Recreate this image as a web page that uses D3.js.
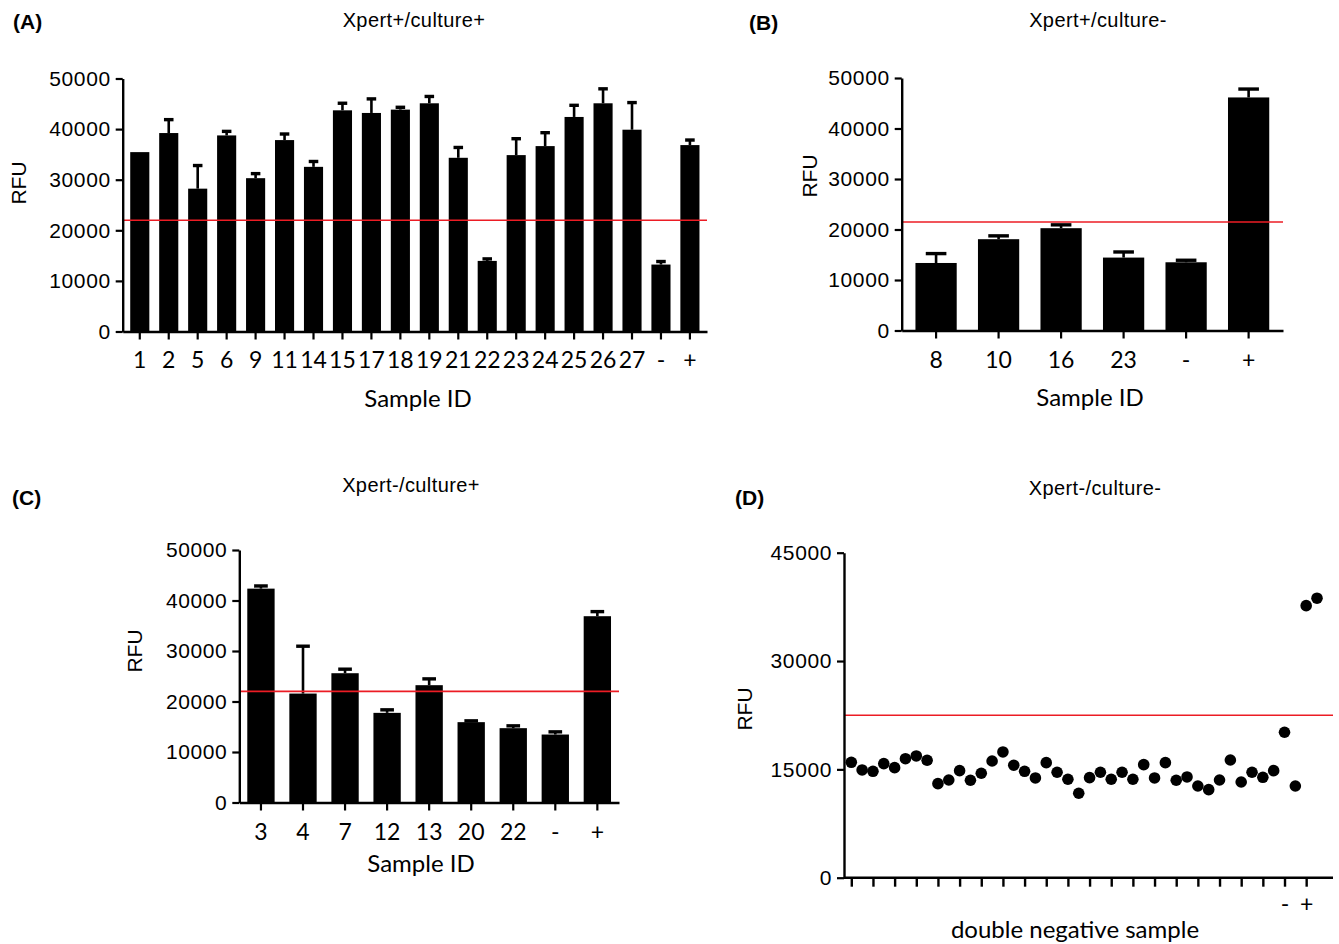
<!DOCTYPE html>
<html>
<head>
<meta charset="utf-8">
<script src="https://cdn.jsdelivr.net/npm/d3@7"></script>
<style>
  body { margin: 0; background: #fff; }
  svg text { fill: #000; }
</style>
</head>
<body>
<svg id="fig" width="1339" height="944"></svg>
<script>
// (A) Xpert+/culture+
const idsA = ["1", "2", "5", "6", "9", "11", "14", "15", "17", "18", "19", "21", "22", "23", "24", "25", "26", "27", "-", "+"];
const rfuA = [35450, 39220, 28230, 38750, 30300, 37830, 32540, 43710, 43190, 43850, 45100, 34330, 13950, 34860, 36640, 42400, 45100, 39880, 13230, 36840];
const errA = [0, 2650, 4570, 800, 900, 1200, 1060, 1400, 2780, 460, 1350, 2040, 400, 3240, 2650, 2300, 2860, 5360, 600, 1000];

// (B) Xpert+/culture-
const idsB = ["8", "10", "16", "23", "-", "+"];
const rfuB = [13370, 18080, 20260, 14440, 13510, 46150];
const errB = [1860, 660, 660, 1110, 400, 1660];

// (C) Xpert-/culture+
const idsC = ["3", "4", "7", "12", "13", "20", "22", "-", "+"];
const rfuC = [42350, 21570, 25600, 17750, 23230, 15910, 14720, 13460, 36890];
const errC = [530, 9380, 800, 600, 1250, 260, 460, 530, 910];

// (D) Xpert-/culture-  (40 double negative samples, then 2 negative and 2 positive controls)
const rfuD = [15980, 14920, 14730, 15790, 15240, 16480, 16860, 16260, 13020, 13530,
              14820, 13490, 14460, 16160, 17410, 15570, 14730, 13810, 15930, 14600,
              13630, 11690, 13850, 14600, 13630, 14600, 13630, 15650, 13810, 15930,
              13490, 13950, 12700, 12190, 13530, 16300, 13250, 14600, 13900, 14820];
const negD = [20140, 12700];
const posD = [37670, 38700];

// cut-off lines
const cutA = 22000, cutB = 21500, cutC = 22000, cutD = 22500;

const yTicks50 = [0, 10000, 20000, 30000, 40000, 50000];
const yTicks45 = [0, 15000, 30000, 45000];

const svg = d3.select("#fig");
const numFont = "'Liberation Sans', Arial, sans-serif";
const labFont = "Lato, 'Liberation Sans', sans-serif";
const red = "#ec1c24";

function styleAxis(ax) {
  ax.select(".domain").attr("stroke", "#000").attr("stroke-width", 2.4);
  ax.selectAll(".tick line").attr("stroke", "#000").attr("stroke-width", 2.2);
}

function yAxis(g, y, x0, ticks) {
  const ax = g.append("g")
    .attr("transform", `translate(${x0},0)`)
    .call(d3.axisLeft(y).tickValues(ticks).tickFormat(d3.format("d")).tickSize(7).tickSizeOuter(0).tickPadding(5));
  styleAxis(ax);
  ax.selectAll(".tick text")
    .attr("font-family", numFont).attr("font-size", 21).attr("letter-spacing", 0.6);
}

function header(p) {
  svg.append("text").attr("x", p.lx).attr("y", p.ly)
    .attr("font-family", numFont).attr("font-weight", "bold").attr("font-size", 21)
    .text(p.letter);
  svg.append("text").attr("x", p.tx).attr("y", p.ty).attr("text-anchor", "middle")
    .attr("font-family", numFont).attr("font-size", 20).attr("letter-spacing", 0.4)
    .text(p.title);
  svg.append("text")
    .attr("transform", `translate(${p.rx},${p.ry}) rotate(-90)`)
    .attr("text-anchor", "middle").attr("font-family", numFont).attr("font-size", 21)
    .text("RFU");
  svg.append("text").attr("x", p.sx).attr("y", p.sy).attr("text-anchor", "middle")
    .attr("font-family", labFont).attr("font-size", 24)
    .text(p.xlabel);
}

function barPanel(p) {
  const g = svg.append("g");
  const rows = p.ids.map((id, i) => ({ id: id, v: p.vals[i], e: p.errs[i] }));
  const x = d3.scaleBand().domain(p.ids).range([p.x0, p.x1]).paddingInner(p.pi).paddingOuter(p.po);
  const y = d3.scaleLinear().domain([0, 50000]).range([p.y0, p.y1]);
  const bw = x.bandwidth();

  // error bars (upper only)
  const eb = g.selectAll(".err").data(rows.filter(d => d.e > 0)).join("g").attr("class", "err");
  eb.append("line")
    .attr("x1", d => x(d.id) + bw / 2).attr("x2", d => x(d.id) + bw / 2)
    .attr("y1", d => y(d.v)).attr("y2", d => y(d.v + d.e))
    .attr("stroke", "#000").attr("stroke-width", 2.6);
  eb.append("line")
    .attr("x1", d => x(d.id) + bw / 2 - bw * 0.25).attr("x2", d => x(d.id) + bw / 2 + bw * 0.25)
    .attr("y1", d => y(d.v + d.e)).attr("y2", d => y(d.v + d.e))
    .attr("stroke", "#000").attr("stroke-width", 3.4);

  g.selectAll(".bar").data(rows).join("rect").attr("class", "bar")
    .attr("x", d => x(d.id)).attr("width", bw)
    .attr("y", d => y(d.v)).attr("height", d => y(0) - y(d.v))
    .attr("fill", "#000");

  // cut-off
  g.append("line").attr("x1", p.x0).attr("x2", p.x1)
    .attr("y1", y(p.cut)).attr("y2", y(p.cut))
    .attr("stroke", red).attr("stroke-width", 1.6);

  yAxis(g, y, p.x0, yTicks50);

  const ax = g.append("g").attr("transform", `translate(0,${p.y0})`)
    .call(d3.axisBottom(x).tickSize(8).tickSizeOuter(0));
  styleAxis(ax);
  ax.selectAll(".tick text")
    .attr("font-family", labFont).attr("font-size", 23)
    .attr("y", p.ty).attr("dy", 0);

  header(p.head);
}

barPanel({
  ids: idsA, vals: rfuA, errs: errA, cut: cutA,
  x0: 122.7, x1: 707, y0: 331.5, y1: 78.5, pi: 0.34, po: 0.26, ty: 36,
  head: { letter: "(A)", lx: 13, ly: 29, title: "Xpert+/culture+", tx: 414, ty: 27,
          rx: 26, ry: 183, xlabel: "Sample ID", sx: 418, sy: 407 }
});

barPanel({
  ids: idsB, vals: rfuB, errs: errB, cut: cutB,
  x0: 901.7, x1: 1283, y0: 330.5, y1: 78, pi: 0.34, po: 0.22, ty: 37,
  head: { letter: "(B)", lx: 749, ly: 30, title: "Xpert+/culture-", tx: 1098, ty: 27,
          rx: 817, ry: 176, xlabel: "Sample ID", sx: 1090, sy: 406 }
});

barPanel({
  ids: idsC, vals: rfuC, errs: errC, cut: cutC,
  x0: 239.3, x1: 619, y0: 802.5, y1: 550, pi: 0.35, po: 0.19, ty: 37,
  head: { letter: "(C)", lx: 12, ly: 505, title: "Xpert-/culture+", tx: 411, ty: 492,
          rx: 142, ry: 651, xlabel: "Sample ID", sx: 421, sy: 872 }
});

// (D) dot plot
(function () {
  const g = svg.append("g");
  const pts = rfuD.concat(negD, posD).map((v, i) => ({ i: i, v: v }));
  const nNeg = rfuD.length;          // index of first negative control
  const nPos = rfuD.length + negD.length;
  const x0 = 844, xEnd = 1333, y0 = 877.7, y1 = 552.7;
  const x = d3.scaleLinear().domain([0, pts.length - 1]).range([851.3, 1317]);
  const y = d3.scaleLinear().domain([0, 45000]).range([y0, y1]);

  g.append("line").attr("x1", x0).attr("x2", xEnd)
    .attr("y1", y(cutD)).attr("y2", y(cutD))
    .attr("stroke", red).attr("stroke-width", 1.6);

  g.selectAll(".dot").data(pts).join("circle").attr("class", "dot")
    .attr("cx", d => x(d.i)).attr("cy", d => y(d.v)).attr("r", 5.8)
    .attr("fill", "#000");

  yAxis(g, y, x0, yTicks45);

  const tv = d3.range(0, pts.length, 2);
  const ax = g.append("g").attr("transform", `translate(0,${y0})`)
    .call(d3.axisBottom(x).tickValues(tv).tickSize(9).tickSizeOuter(0)
      .tickFormat(d => d === nNeg ? "-" : d === nPos ? "+" : ""));
  ax.select(".domain").remove();
  ax.append("line").attr("x1", x0).attr("x2", xEnd).attr("stroke", "#000").attr("stroke-width", 2.6);
  ax.selectAll(".tick line").attr("stroke", "#000").attr("stroke-width", 2.4);
  ax.selectAll(".tick text").attr("font-family", labFont).attr("font-size", 23)
    .attr("y", 34).attr("dy", 0);

  header({ letter: "(D)", lx: 735, ly: 505, title: "Xpert-/culture-", tx: 1095, ty: 495,
           rx: 752, ry: 709, xlabel: "double negative sample", sx: 1075, sy: 938 });
})();
</script>
</body>
</html>
